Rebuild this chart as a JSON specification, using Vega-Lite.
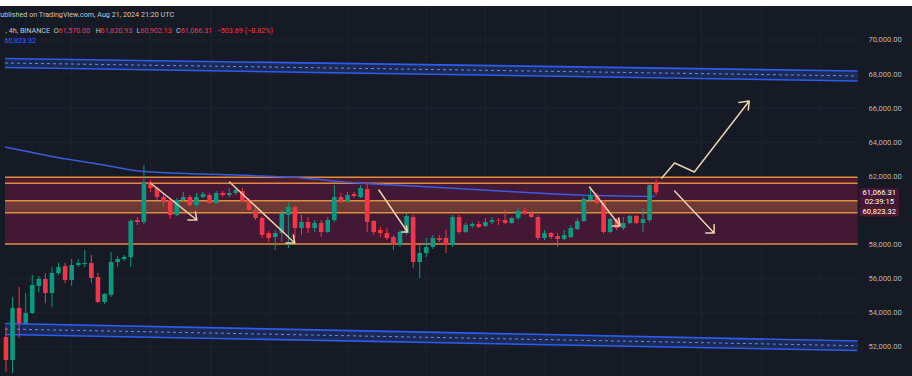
{
 "$schema": "https://vega.github.io/schema/vega-lite/v6.json",
 "width": 912, "height": 370,
 "autosize": {"type": "none"},
 "padding": {"left": 0, "right": 0, "top": 6, "bottom": 0},
 "background": "#ffffff",
 "config": {"view": {"fill": "#161a25", "stroke": null}, "font": "Roboto",
  "axisX": {"disable": true},
  "axisY": {"labelPadding": 0, "ticks": false, "domain": false, "grid": false, "labelAlign": "left", "labelBaseline": "middle", "labelColor": "#b2b5be", "labelFontSize": 7.6, "labelFont": "Roboto", "titleOpacity": 0, "offset": -44}},
 "datasets": {
  "candles": [
{"i":0,"o":52581,"h":53167,"l":50529,"c":51232},
{"i":1,"o":51232,"h":54927,"l":50470,"c":54281},
{"i":2,"o":54281,"h":55513,"l":52522,"c":53402},
{"i":3,"o":53402,"h":55161,"l":53284,"c":53988},
{"i":4,"o":53988,"h":56217,"l":53930,"c":55630},
{"i":5,"o":55572,"h":56158,"l":55220,"c":55983},
{"i":6,"o":55983,"h":56334,"l":54574,"c":55161},
{"i":7,"o":55161,"h":56686,"l":54340,"c":56334},
{"i":8,"o":56334,"h":56921,"l":56217,"c":56686},
{"i":9,"o":56745,"h":56921,"l":55748,"c":55924},
{"i":10,"o":55924,"h":57155,"l":55572,"c":56804},
{"i":11,"o":56804,"h":57155,"l":56686,"c":56921},
{"i":12,"o":56862,"h":57683,"l":56686,"c":56921},
{"i":13,"o":56921,"h":57390,"l":55748,"c":56041},
{"i":14,"o":56100,"h":56334,"l":54574,"c":54634},
{"i":15,"o":54634,"h":55161,"l":54516,"c":55102},
{"i":16,"o":55044,"h":57566,"l":54927,"c":56980},
{"i":17,"o":56980,"h":57331,"l":56686,"c":57155},
{"i":18,"o":57155,"h":57390,"l":57038,"c":57273},
{"i":19,"o":57273,"h":59502,"l":56686,"c":59384},
{"i":20,"o":59443,"h":59619,"l":59150,"c":59326},
{"i":21,"o":59326,"h":62669,"l":59209,"c":61672},
{"i":22,"o":61672,"h":61789,"l":61085,"c":61320},
{"i":23,"o":61320,"h":61379,"l":60616,"c":60792},
{"i":24,"o":60792,"h":61027,"l":60206,"c":60499},
{"i":25,"o":60616,"h":60733,"l":59502,"c":59736},
{"i":26,"o":59736,"h":60733,"l":59677,"c":60616},
{"i":27,"o":60616,"h":61085,"l":60499,"c":60792},
{"i":28,"o":60792,"h":60909,"l":60206,"c":60323},
{"i":29,"o":60323,"h":61027,"l":60206,"c":60792},
{"i":30,"o":60792,"h":61085,"l":60733,"c":60968},
{"i":31,"o":60909,"h":61027,"l":60382,"c":60440},
{"i":32,"o":60440,"h":61144,"l":60382,"c":61027},
{"i":33,"o":61027,"h":61144,"l":60792,"c":60909},
{"i":34,"o":60909,"h":61320,"l":60792,"c":61027},
{"i":35,"o":61027,"h":61379,"l":60909,"c":61203},
{"i":36,"o":61144,"h":61320,"l":60499,"c":60557},
{"i":37,"o":60616,"h":60733,"l":59971,"c":60029},
{"i":38,"o":60029,"h":60147,"l":59443,"c":59560},
{"i":39,"o":59560,"h":59677,"l":58387,"c":58563},
{"i":40,"o":58680,"h":58798,"l":58153,"c":58387},
{"i":41,"o":58446,"h":58856,"l":57683,"c":58680},
{"i":42,"o":58680,"h":60029,"l":58153,"c":59854},
{"i":43,"o":59736,"h":60499,"l":57801,"c":60206},
{"i":44,"o":60206,"h":60323,"l":58387,"c":58974},
{"i":45,"o":58974,"h":59736,"l":58563,"c":59326},
{"i":46,"o":59326,"h":59619,"l":58680,"c":58974},
{"i":47,"o":58974,"h":59443,"l":58739,"c":59267},
{"i":48,"o":59267,"h":59443,"l":58446,"c":58739},
{"i":49,"o":58739,"h":59619,"l":58680,"c":59443},
{"i":50,"o":59443,"h":61496,"l":59326,"c":60792},
{"i":51,"o":60792,"h":61027,"l":60440,"c":60499},
{"i":52,"o":60499,"h":61085,"l":60440,"c":60909},
{"i":53,"o":60968,"h":61085,"l":60733,"c":60850},
{"i":54,"o":60792,"h":61496,"l":60733,"c":61320},
{"i":55,"o":61261,"h":61613,"l":58739,"c":59326},
{"i":56,"o":59384,"h":59443,"l":58563,"c":58739},
{"i":57,"o":58856,"h":59033,"l":58446,"c":58680},
{"i":58,"o":58680,"h":58974,"l":58270,"c":58387},
{"i":59,"o":58446,"h":58563,"l":57683,"c":57977},
{"i":60,"o":57977,"h":58856,"l":57860,"c":58739},
{"i":61,"o":58680,"h":59854,"l":58563,"c":59677},
{"i":62,"o":59619,"h":59736,"l":56628,"c":56980},
{"i":63,"o":56980,"h":57977,"l":56041,"c":57508},
{"i":64,"o":57508,"h":58387,"l":57273,"c":57860},
{"i":65,"o":57860,"h":58563,"l":57742,"c":58387},
{"i":66,"o":58387,"h":58563,"l":58153,"c":58270},
{"i":67,"o":58387,"h":58856,"l":57508,"c":57977},
{"i":68,"o":57977,"h":59736,"l":57860,"c":59619},
{"i":69,"o":59619,"h":59736,"l":58622,"c":58739},
{"i":70,"o":58739,"h":59267,"l":58680,"c":59150},
{"i":71,"o":59091,"h":59326,"l":58974,"c":59209},
{"i":72,"o":59209,"h":59384,"l":58974,"c":59033},
{"i":73,"o":59091,"h":59560,"l":59033,"c":59326},
{"i":74,"o":59326,"h":59619,"l":59209,"c":59443},
{"i":75,"o":59443,"h":59560,"l":59150,"c":59414},
{"i":76,"o":59443,"h":60029,"l":59209,"c":59267},
{"i":77,"o":59267,"h":59619,"l":59209,"c":59560},
{"i":78,"o":59560,"h":60147,"l":59443,"c":59971},
{"i":79,"o":59971,"h":60147,"l":59736,"c":59854},
{"i":80,"o":59854,"h":59971,"l":59560,"c":59619},
{"i":81,"o":59619,"h":59736,"l":58270,"c":58387},
{"i":82,"o":58387,"h":58856,"l":58270,"c":58680},
{"i":83,"o":58680,"h":58739,"l":58329,"c":58446},
{"i":84,"o":58505,"h":58680,"l":57860,"c":58329},
{"i":85,"o":58329,"h":58856,"l":58270,"c":58563},
{"i":86,"o":58446,"h":59150,"l":58387,"c":58974},
{"i":87,"o":58915,"h":59560,"l":58856,"c":59384},
{"i":88,"o":59384,"h":60792,"l":59326,"c":60675},
{"i":89,"o":60616,"h":61379,"l":60557,"c":60909},
{"i":90,"o":60909,"h":61027,"l":60323,"c":60440},
{"i":91,"o":60499,"h":60616,"l":58622,"c":58739},
{"i":92,"o":58739,"h":59560,"l":58680,"c":59502},
{"i":93,"o":59502,"h":59560,"l":58856,"c":58974},
{"i":94,"o":58974,"h":59619,"l":58856,"c":59267},
{"i":95,"o":59267,"h":59736,"l":59209,"c":59677},
{"i":96,"o":59677,"h":59736,"l":59209,"c":59267},
{"i":97,"o":59267,"h":60147,"l":58739,"c":59502},
{"i":98,"o":59443,"h":61613,"l":59326,"c":61496},
{"i":99,"o":61570,"h":61821,"l":60902,"c":61066}
  ],
  "ma": [
{"i":-0.15,"v":63724},{"i":2.86,"v":63490},{"i":7.38,"v":63138},{"i":11.14,"v":62903},
{"i":14.91,"v":62669},{"i":20.93,"v":62288},{"i":29.97,"v":62141},{"i":39.0,"v":62023},
{"i":45.03,"v":61906},{"i":52.56,"v":61640},{"i":64.61,"v":61379},{"i":75.15,"v":61144},
{"i":87.2,"v":60909},{"i":98.8,"v":60823}
  ],
  "channels": [
{"ch":"top","i":-0.15,"up":68915,"lo":68387,"mid":68651},
{"ch":"top","i":129.67,"up":68182,"lo":67595,"mid":67889},
{"ch":"bottom","i":-0.15,"up":53373,"lo":52728,"mid":53050},
{"ch":"bottom","i":129.67,"up":52346,"lo":51789,"mid":52068}
  ],
  "zones": [
{"k":"main","t":61947,"b":58035},
{"k":"top","t":61947,"b":61595},
{"k":"mid","t":60575,"b":59871}
  ],
  "levels": [{"v":61947},{"v":61595},{"v":60575},{"v":59871},{"v":58035}],
  "ygrid": [{"v":52000},{"v":54000},{"v":56000},{"v":58000},{"v":60000},{"v":62000},{"v":64000},{"v":66000},{"v":68000},{"v":70000}],
  "xgrid": [{"g":9.94},{"g":22.0},{"g":31.2},{"g":40.2},{"g":52.1},{"g":64.0},{"g":73.0},{"g":82.1},{"g":93.9},{"g":105.9},{"g":115.1},{"g":124.1}],
  "arrows": [
{"a":1,"k":0,"i":21.99,"p":61613},{"a":1,"k":1,"i":29.07,"p":59443},{"a":1,"k":2,"i":27.71,"p":59443},{"a":1,"k":3,"i":29.07,"p":59443},{"a":1,"k":4,"i":28.84,"p":59912},
{"a":2,"k":0,"i":34.04,"p":61672},{"a":2,"k":1,"i":43.98,"p":58094},{"a":2,"k":2,"i":42.62,"p":58094},{"a":2,"k":3,"i":43.98,"p":58094},{"a":2,"k":4,"i":43.75,"p":58563},
{"a":3,"k":0,"i":56.78,"p":61202},{"a":3,"k":1,"i":61.14,"p":58739},{"a":3,"k":2,"i":60.24,"p":58739},{"a":3,"k":3,"i":61.14,"p":58739},{"a":3,"k":4,"i":60.99,"p":59091},
{"a":4,"k":0,"i":88.86,"p":61378},{"a":4,"k":1,"i":93.52,"p":59091},{"a":4,"k":2,"i":92.32,"p":59091},{"a":4,"k":3,"i":93.52,"p":59091},{"a":4,"k":4,"i":93.30,"p":59560},
{"a":5,"k":0,"i":99.85,"p":61906},{"a":5,"k":1,"i":101.81,"p":62786},{"a":5,"k":2,"i":104.82,"p":62258},{"a":5,"k":3,"i":113.18,"p":66422},{"a":5,"k":4,"i":111.60,"p":66334},{"a":5,"k":5,"i":113.18,"p":66422},{"a":5,"k":6,"i":113.03,"p":65894},
{"a":6,"k":0,"i":101.81,"p":61144},{"a":6,"k":1,"i":107.83,"p":58681},{"a":6,"k":2,"i":106.55,"p":58681},{"a":6,"k":3,"i":107.83,"p":58681},{"a":6,"k":4,"i":107.83,"p":59179}
  ],
  "tags": [{"k":"last","t":61320,"b":60205},{"k":"ma","t":60205,"b":59648}],
  "tagtext": [{"t":"61,066.31","p":61027},{"t":"02:39:15","p":60499},{"t":"60,823.32","p":59912}],
  "headgrey": [
{"t":"Published on TradingView.com, Aug 21, 2024 21:20 UTC","i":-1.55,"p":71466},
{"t":", 4h, BINANCE","i":-0.075,"p":70528},
{"t":"O","i":7.27,"p":70528},
{"t":"H","i":13.66,"p":70528},
{"t":"L","i":19.88,"p":70528},
{"t":"C","i":25.9,"p":70528}
  ],
  "headred": [
{"t":"61,570.00","i":7.98,"p":70528},
{"t":"61,820.93","i":14.41,"p":70528},
{"t":"60,902.13","i":20.44,"p":70528},
{"t":"61,066.31","i":26.61,"p":70528},
{"t":"\u2212503.69 (\u22120.82%)","i":32.08,"p":70528}
  ],
  "headblue": [{"t":"60,823.32","i":-0.226,"p":69912}]
 },
 "layer": [
  {"data": {"name": "ygrid"}, "mark": {"type": "rule", "color": "#1f2331", "strokeWidth": 1},
   "encoding": {
    "x": {"datum": -0.15, "type": "quantitative", "scale": {"domain": [-0.15, 137.2], "nice": false, "zero": false}},
    "x2": {"datum": 129.67},
    "y": {"field": "v", "type": "quantitative", "scale": {"domain": [50293, 71994], "nice": false, "zero": false},
     "axis": {"orient": "right", "title": null,
      "values": [52000,54000,56000,58000,60000,62000,64000,66000,68000,70000], "format": ",.2f",
      "labelExpr": "datum.value == 60000 ? '' : datum.label"}}}},
  {"data": {"name": "xgrid"}, "mark": {"type": "rule", "color": "#1f2331", "strokeWidth": 1},
   "encoding": {"x": {"field": "g", "type": "quantitative"}}},
  {"data": {"name": "channels"}, "mark": {"type": "area", "color": "#2962ff", "opacity": 0.22},
   "encoding": {
    "x": {"field": "i", "type": "quantitative"},
    "y": {"field": "up", "type": "quantitative"},
    "y2": {"field": "lo"}, "detail": {"field": "ch"}}},
  {"data": {"name": "channels"}, "mark": {"type": "line", "color": "#2f5cf0", "strokeWidth": 1.6},
   "encoding": {
    "x": {"field": "i", "type": "quantitative"},
    "y": {"field": "up", "type": "quantitative"},
    "detail": {"field": "ch"}}},
  {"data": {"name": "channels"}, "mark": {"type": "line", "color": "#2f5cf0", "strokeWidth": 1.6},
   "encoding": {
    "x": {"field": "i", "type": "quantitative"},
    "y": {"field": "lo", "type": "quantitative"},
    "detail": {"field": "ch"}}},
  {"data": {"name": "channels"}, "mark": {"type": "line", "color": "#6d86e8", "strokeWidth": 1, "strokeDash": [3, 3]},
   "encoding": {
    "x": {"field": "i", "type": "quantitative"},
    "y": {"field": "mid", "type": "quantitative"},
    "detail": {"field": "ch"}}},
  {"data": {"name": "zones"}, "mark": {"type": "rect"},
   "encoding": {
    "x": {"datum": -0.15, "type": "quantitative"},
    "x2": {"datum": 129.67},
    "y": {"field": "t", "type": "quantitative"},
    "y2": {"field": "b"},
    "color": {"field": "k", "type": "nominal", "scale": {"domain": ["main", "top", "mid"], "range": ["#421834", "#4e1b2c", "#6e3834"]}, "legend": null}}},
  {"data": {"name": "levels"}, "mark": {"type": "rule", "color": "#de8c3e", "strokeWidth": 1.5},
   "encoding": {
    "x": {"datum": -0.15, "type": "quantitative"},
    "x2": {"datum": 129.67},
    "y": {"field": "v", "type": "quantitative"}}},
  {"mark": {"type": "rule", "color": "#f23645", "opacity": 0.6, "strokeWidth": 1, "strokeDash": [1, 3]},
   "encoding": {
    "x": {"datum": -0.15, "type": "quantitative"},
    "x2": {"datum": 129.67},
    "y": {"datum": 61066, "type": "quantitative"}}},
  {"data": {"name": "ma"}, "mark": {"type": "line", "color": "#3b5ae0", "strokeWidth": 1.5, "interpolate": "monotone"},
   "encoding": {
    "x": {"field": "i", "type": "quantitative"},
    "y": {"field": "v", "type": "quantitative"}}},
  {"data": {"name": "candles"}, "mark": {"type": "rule", "strokeWidth": 1},
   "encoding": {
    "x": {"field": "i", "type": "quantitative"},
    "y": {"field": "l", "type": "quantitative"},
    "y2": {"field": "h"},
    "color": {"condition": {"test": "datum.c >= datum.o", "value": "#089981"}, "value": "#f23645"}}},
  {"data": {"name": "candles"}, "mark": {"type": "bar", "size": 4.6},
   "encoding": {
    "x": {"field": "i", "type": "quantitative"},
    "y": {"field": "o", "type": "quantitative"},
    "y2": {"field": "c"},
    "color": {"condition": {"test": "datum.c >= datum.o", "value": "#089981"}, "value": "#f23645"}}},
  {"data": {"name": "arrows"}, "mark": {"type": "line", "color": "#e9d3ae", "strokeWidth": 1.5, "strokeCap": "round", "strokeJoin": "round"},
   "encoding": {
    "x": {"field": "i", "type": "quantitative"},
    "y": {"field": "p", "type": "quantitative"},
    "detail": {"field": "a"}, "order": {"field": "k"}}},
  {"data": {"name": "tags"}, "mark": {"type": "rect", "cornerRadius": 2},
   "encoding": {
    "x": {"datum": 129.97, "type": "quantitative"},
    "x2": {"datum": 135.99},
    "y": {"field": "t", "type": "quantitative"},
    "y2": {"field": "b"},
    "color": {"field": "k", "type": "nominal", "scale": {"domain": ["last", "ma"], "range": ["#f23645", "#2962ff"]}, "legend": null}}},
  {"data": {"name": "tagtext"}, "mark": {"type": "text", "color": "#ffffff", "fontSize": 7.6, "align": "center", "baseline": "middle"},
   "encoding": {
    "x": {"datum": 132.98, "type": "quantitative"},
    "y": {"field": "p", "type": "quantitative"},
    "text": {"field": "t"}}},
  {"data": {"name": "headgrey"}, "mark": {"type": "text", "color": "#c3c6ce", "fontSize": 7.2, "align": "left", "baseline": "middle"},
   "encoding": {
    "x": {"field": "i", "type": "quantitative"},
    "y": {"field": "p", "type": "quantitative"},
    "text": {"field": "t"}}},
  {"data": {"name": "headred"}, "mark": {"type": "text", "color": "#f23645", "fontSize": 7.2, "align": "left", "baseline": "middle"},
   "encoding": {
    "x": {"field": "i", "type": "quantitative"},
    "y": {"field": "p", "type": "quantitative"},
    "text": {"field": "t"}}},
  {"data": {"name": "headblue"}, "mark": {"type": "text", "color": "#2962ff", "fontSize": 7.2, "align": "left", "baseline": "middle"},
   "encoding": {
    "x": {"field": "i", "type": "quantitative"},
    "y": {"field": "p", "type": "quantitative"},
    "text": {"field": "t"}}}
 ]
}
